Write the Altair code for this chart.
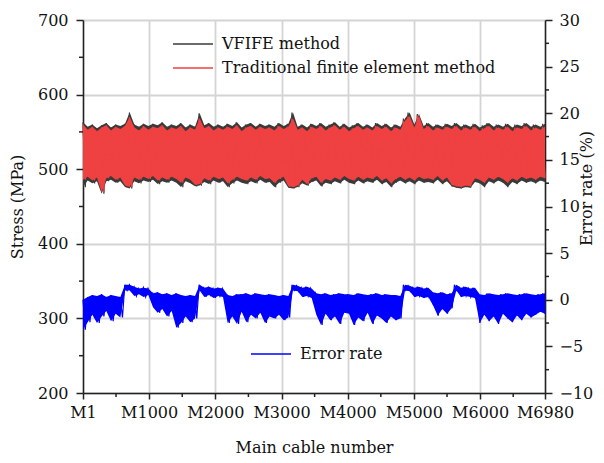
import altair as alt
import pandas as pd

# ---------------- data ----------------
cable_ticks = [1, 1000, 2000, 3000, 4000, 5000, 6000, 6980]
cable_minor = [500, 1500, 2500, 3500, 4500, 5500, 6500]
stress_ticks = [200, 300, 400, 500, 600, 700]
stress_minor = [250, 350, 450, 550, 650]
err_ticks = [-10, -5, 0, 5, 10, 15, 20, 25, 30]
err_minor = [-7.5, -2.5, 2.5, 7.5, 12.5, 17.5, 22.5, 27.5]

series_names = ["VFIFE method", "Traditional finite element method"]
err_name = ["Error rate"]

# envelope samples (upper / lower value in each block of ~70 cables)
vfife_hi = [563, 557, 560, 555, 559, 562, 556, 560, 558, 561,
            576, 560, 557, 561, 558, 561, 559, 563, 557, 560,
            558, 562, 556, 560, 557, 575, 559, 562, 557, 560,
            557, 561, 558, 563, 556, 560, 562, 557, 561, 558,
            560, 557, 562, 558, 561, 576, 557, 560, 556, 561,
            558, 562, 557, 560, 563, 557, 561, 556, 559, 562,
            557, 560, 556, 562, 558, 561, 556, 560, 557, 568,
            576, 560, 574, 558, 562, 557, 560, 557, 561, 558,
            562, 557, 560, 557, 561, 556, 559, 562, 557, 560,
            557, 561, 556, 560, 558, 562, 557, 560, 557, 561]
vfife_lo = [476, 485, 481, 484, 467, 484, 486, 482, 484, 476,
            474, 484, 481, 485, 483, 486, 480, 484, 482, 485,
            482, 476, 484, 481, 477, 478, 483, 480, 485, 482,
            484, 476, 481, 485, 482, 480, 484, 481, 486, 482,
            483, 476, 482, 485, 475, 474, 476, 481, 478, 483,
            485, 477, 482, 480, 484, 481, 486, 482, 480, 485,
            481, 484, 482, 486, 480, 483, 476, 482, 485, 481,
            484, 480, 485, 482, 483, 481, 486, 480, 484, 477,
            475, 474, 476, 475, 483, 481, 476, 484, 481, 485,
            482, 476, 483, 480, 485, 482, 484, 481, 485, 483]
fem_hi = [560, 553, 557, 551, 556, 559, 552, 557, 554, 558,
          570, 556, 552, 558, 553, 557, 555, 559, 552, 556,
          554, 558, 551, 556, 553, 568, 555, 558, 552, 556,
          553, 557, 554, 559, 551, 556, 558, 553, 557, 554,
          556, 552, 558, 554, 557, 568, 553, 556, 551, 557,
          554, 558, 552, 556, 559, 553, 557, 551, 555, 558,
          553, 556, 552, 558, 554, 557, 551, 556, 553, 565,
          571, 556, 572, 554, 558, 552, 556, 553, 557, 554,
          558, 552, 556, 553, 557, 551, 555, 558, 552, 556,
          553, 557, 551, 556, 554, 558, 552, 556, 553, 557]
fem_lo = [486, 490, 485, 489, 469, 488, 491, 486, 489, 478,
          476, 489, 486, 490, 487, 491, 485, 489, 486, 490,
          487, 482, 489, 486, 479, 480, 488, 485, 490, 487,
          489, 481, 486, 490, 487, 485, 489, 486, 491, 487,
          488, 482, 487, 490, 477, 476, 478, 486, 480, 488,
          490, 482, 487, 485, 489, 486, 491, 487, 485, 490,
          486, 489, 487, 491, 485, 488, 481, 487, 490, 486,
          489, 485, 490, 487, 488, 486, 491, 485, 489, 479,
          477, 476, 478, 477, 488, 486, 482, 489, 486, 490,
          487, 482, 488, 485, 490, 487, 489, 486, 490, 488]
err_hi = [0.0, 0.3, 0.5, 0.4, 0.6, 0.3, 0.5, 0.4, 0.3, 1.6,
          1.6, 1.4, 1.2, 1.3, 1.2, 0.7, 0.8, 0.6, 0.7, 0.5,
          0.7, 0.5, 0.4, 0.5, 0.4, 1.6, 1.3, 1.4, 1.2, 1.3,
          1.2, 0.5, 0.4, 0.6, 0.6, 0.7, 0.5, 0.7, 0.6, 0.5,
          0.6, 0.5, 0.4, 0.5, 0.4, 1.6, 1.5, 1.3, 1.4, 1.2,
          0.7, 0.6, 0.7, 0.5, 0.6, 0.7, 0.6, 0.6, 0.5, 0.7,
          0.6, 0.5, 0.6, 0.7, 0.5, 0.6, 0.5, 0.5, 0.4, 1.6,
          1.5, 1.3, 1.4, 1.2, 1.3, 0.8, 0.7, 0.8, 0.6, 0.7,
          1.6, 1.3, 1.4, 1.2, 1.3, 0.6, 0.5, 0.7, 0.6, 0.5,
          0.6, 0.7, 0.6, 0.5, 0.6, 0.7, 0.6, 0.5, 0.6, 0.7]
err_lo = [-3.2, -2.4, -1.6, -2.5, -1.8, -1.2, -2.3, -1.5, -1.9, 1.0,
          1.0, 0.4, 0.6, 0.3, 0.5, -0.8, -1.4, -1.0, -1.8, -1.2,
          -3.0, -2.5, -1.8, -2.4, -2.0, 1.0, 0.3, 0.5, 0.2, 0.4,
          0.3, -2.5, -1.8, -2.6, -1.3, -2.4, -1.6, -2.0, -1.4, -2.5,
          -1.8, -2.0, -1.6, -2.2, -1.9, 1.0, 0.9, 0.3, 0.4, 0.2,
          -1.6, -2.7, -1.5, -2.2, -1.8, -2.6, -1.4, -1.5, -2.7, -1.9,
          -2.3, -1.4, -2.6, -1.7, -2.0, -2.5, -1.8, -2.2, -2.0, 1.0,
          0.9, 0.3, 0.4, 0.2, 0.3, -0.6, -1.7, -1.0, -1.5, -0.9,
          1.0, 0.3, 0.4, 0.3, 0.2, -2.5, -1.6, -2.3, -1.8, -2.6,
          -1.5, -2.0, -2.4, -1.7, -2.2, -1.5, -1.9, -1.6, -1.3, -1.5]


def zigzag(hi, lo, name, key):
    n = len(hi)
    rows = []
    for k in range(2 * n):
        x = 1 + k * (6980 - 1) / (2 * n - 1)
        v = hi[k // 2] if k % 2 == 0 else lo[k // 2]
        rows.append({"cable": x, "value": v, key: name, "k": k})
    return pd.DataFrame(rows)


def band(hi, lo):
    n = len(hi)
    xs = [1 + k * (6980 - 1) / (n - 1) for k in range(n)]
    return pd.DataFrame({"cable": xs, "value": hi, "lo": lo})


df_vfife = zigzag(vfife_hi, vfife_lo, series_names[0], "s1")
df_fem = zigzag(fem_hi, fem_lo, series_names[1], "s2")
df_err = zigzag(err_hi, err_lo, err_name[0], "s3")
bd_vfife = band(vfife_hi, vfife_lo)
bd_fem = band(fem_hi, fem_lo)
bd_err = band(err_hi, err_lo)

FONT = "DejaVu Serif"
FS = 16
W, H = 462, 373
BLACK, RED, BLUE = "#3a3a3a", "#ef4141", "#0000ff"

x_scale = alt.Scale(domain=[1, 6980], nice=False, zero=False)
y_left = alt.Scale(domain=[200, 700], nice=False, zero=False)
y_right = alt.Scale(domain=[-10, 30], nice=False, zero=False)

x_axis = alt.Axis(values=cable_ticks, labelExpr="'M' + datum.value",
                  title="Main cable number", grid=True, labelFlush=False,
                  labelOverlap=False, tickSize=6, labelPadding=5, titlePadding=19)
yl_axis = alt.Axis(values=stress_ticks, title="Stress (MPa)", grid=True,
                   tickSize=7, labelPadding=8, titlePadding=12)
yr_axis = alt.Axis(orient="right", values=err_ticks, title="Error rate (%)",
                   grid=False, tickSize=7, labelPadding=7, titlePadding=2,
                   titleAngle=270, titleY=168)


def X(field="cable"):
    return alt.X(f"{field}:Q", scale=x_scale, axis=x_axis)


def YL(field="value"):
    return alt.Y(f"{field}:Q", scale=y_left, axis=yl_axis)


def YR(field="value"):
    return alt.Y(f"{field}:Q", scale=y_right, axis=yr_axis)


legend_common = dict(title=None, symbolType="stroke", symbolSize=1600,
                     symbolStrokeWidth=1.5, labelFont=FONT, labelFontSize=FS,
                     labelColor="#111", labelOffset=8, padding=0, labelLimit=0)


def legend_color(key, names, colors, lx, ly):
    return alt.Color(f"{key}:N", scale=alt.Scale(domain=names, range=colors),
                     legend=alt.Legend(orient="none", legendX=lx, legendY=ly,
                                       **legend_common))


black_band = alt.Chart(bd_vfife).mark_area(color=BLACK).encode(
    x=X(), y=YL(), y2="lo:Q")
black = alt.Chart(df_vfife).mark_line(strokeWidth=1.2).encode(
    x=X(), y=YL(), color=legend_color("s1", series_names[:1], [BLACK], 89, 3),
    order="k:Q")
red_band = alt.Chart(bd_fem).mark_area(color=RED).encode(
    x=X(), y=YL(), y2="lo:Q")
red = alt.Chart(df_fem).mark_line(strokeWidth=1.2).encode(
    x=X(), y=YL(), color=legend_color("s2", series_names[1:], [RED], 89, 27),
    order="k:Q")

left_minor = alt.Chart(pd.DataFrame({"value": stress_minor})).mark_rule(
    color="#222", strokeWidth=1.5).encode(
    y=YL(), x=alt.value(0), x2=alt.value(-4))
x_minor = alt.Chart(pd.DataFrame({"cable": cable_minor})).mark_rule(
    color="#222", strokeWidth=1.5).encode(
    x=X(), y=alt.value(H), y2=alt.value(H + 4))

left_group = alt.layer(black_band, black, red_band, red, left_minor, x_minor
                       ).resolve_scale(color="independent")

blue_band = alt.Chart(bd_err).mark_area(color=BLUE).encode(
    x=X(), y=YR(), y2="lo:Q")
blue = alt.Chart(df_err).mark_line(strokeWidth=1.2).encode(
    x=X(), y=YR(), color=legend_color("s3", err_name, [BLUE], 167, 313),
    order="k:Q")
right_minor = alt.Chart(pd.DataFrame({"value": err_minor})).mark_rule(
    color="#222", strokeWidth=1.5).encode(
    y=YR(), x=alt.value(W), x2=alt.value(W + 4))

right_group = alt.layer(blue_band, blue, right_minor)

chart = alt.layer(left_group, right_group).resolve_scale(
    y="independent", color="independent"
).properties(
    width=W, height=H,
    autosize=alt.AutoSizeParams(type="none"),
    padding={"left": 83, "top": 20, "right": 59, "bottom": 70},
).configure_axis(
    labelFont=FONT, titleFont=FONT, labelFontSize=FS, titleFontSize=FS,
    titleFontWeight="normal", labelColor="#111", titleColor="#111",
    domainColor="#222", tickColor="#222", domainWidth=1.5, tickWidth=1.5,
    gridColor="#d4d4d4", gridWidth=1.8,
).configure_view(stroke=None)

chart.save("out.html", embed_options={"renderer": "svg", "actions": False})
